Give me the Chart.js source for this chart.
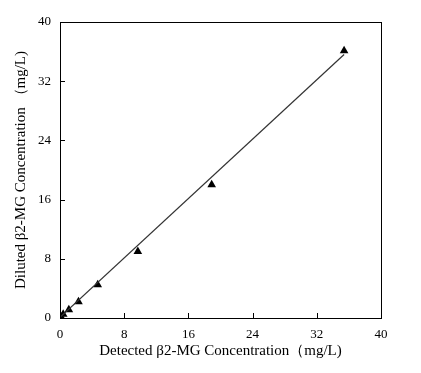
<!DOCTYPE html>
<html>
<head>
<meta charset="utf-8">
<script src="https://cdn.jsdelivr.net/npm/chart.js@4"></script>
<style>
  html, body { margin: 0; padding: 0; background: #fff; }
  #wrap { width: 421px; height: 373px; }
</style>
</head>
<body>
<div id="wrap"><canvas id="chart" width="421" height="373"></canvas></div>
<script>
// measured points (detected vs diluted)
const detected = [0.1, 0.4, 1.1, 2.3, 4.7, 9.7, 18.9, 35.4];
const diluted = [0.2, 0.5, 1.1, 2.2, 4.5, 9.0, 18.0, 36.1];
// fitted line end points
const fitX = [0, 35.4];
const fitY = [0.1, 35.6];
const axisTicks = [0, 8, 16, 24, 32, 40];

const serif = "'Liberation Serif', 'Times New Roman', serif";

// frame + inward tick marks, like the original plot
const framePlugin = {
  id: 'frame',
  afterDraw: function (chart) {
    const ctx = chart.ctx;
    const a = chart.chartArea;
    const xs = chart.scales.x;
    const ys = chart.scales.y;
    ctx.save();
    ctx.strokeStyle = '#000';
    ctx.lineWidth = 1;
    ctx.strokeRect(Math.round(a.left) + 0.5, Math.round(a.top) + 0.5,
      Math.round(a.right - a.left), Math.round(a.bottom - a.top));
    ctx.beginPath();
    axisTicks.forEach(function (v) {
      const px = Math.round(xs.getPixelForValue(v)) + 0.5;
      ctx.moveTo(px, a.bottom);
      ctx.lineTo(px, a.bottom - 5);
      const py = Math.round(ys.getPixelForValue(v)) + 0.5;
      ctx.moveTo(a.left, py);
      ctx.lineTo(a.left + 5, py);
    });
    ctx.stroke();
    ctx.restore();
  }
};

new Chart(document.getElementById('chart'), {
  type: 'scatter',
  data: {
    datasets: [
      {
        label: 'fit',
        data: fitX.map(function (x, i) { return { x: x, y: fitY[i] }; }),
        showLine: true,
        borderColor: '#333',
        borderWidth: 1.2,
        pointRadius: 0
      },
      {
        label: 'measured',
        data: detected.map(function (x, i) { return { x: x, y: diluted[i] }; }),
        pointStyle: 'triangle',
        pointRadius: 5,
        backgroundColor: '#000',
        borderColor: '#000',
        borderWidth: 0
      }
    ]
  },
  plugins: [framePlugin],
  options: {
    responsive: false,
    animation: false,
    layout: { padding: { top: 22, right: 40, left: 0, bottom: 0 } },
    plugins: { legend: { display: false }, tooltip: { enabled: false } },
    scales: {
      x: {
        type: 'linear',
        min: 0,
        max: 40,
        afterBuildTicks: function (s) { s.ticks = axisTicks.map(function (v) { return { value: v }; }); },
        afterFit: function (s) { s.height = 55; },
        grid: { display: false, drawTicks: false },
        border: { display: false },
        ticks: { color: '#000', font: { family: serif, size: 13 }, padding: 9, maxRotation: 0 },
        title: {
          display: true,
          text: 'Detected β2-MG Concentration（mg/L)',
          color: '#000',
          font: { family: serif, size: 15 },
          padding: { top: 0, bottom: 13 }
        }
      },
      y: {
        type: 'linear',
        min: 0,
        max: 40,
        afterBuildTicks: function (s) { s.ticks = axisTicks.map(function (v) { return { value: v }; }); },
        afterFit: function (s) { s.width = 60; },
        grid: { display: false, drawTicks: false },
        border: { display: false },
        ticks: { color: '#000', font: { family: serif, size: 13 }, padding: 9 },
        title: {
          display: true,
          text: 'Diluted β2-MG Concentration （mg/L)',
          color: '#000',
          font: { family: serif, size: 15 },
          padding: { top: 12, bottom: 0 }
        }
      }
    }
  }
});
</script>
</body>
</html>
